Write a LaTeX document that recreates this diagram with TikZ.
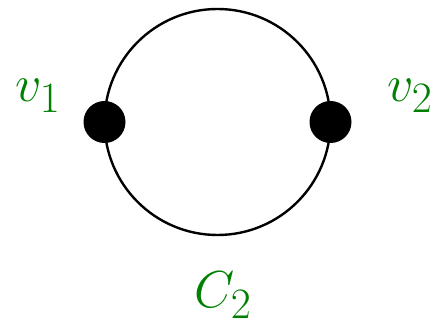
\documentclass[tikz,border=0pt]{standalone}
\usepackage{graphicx}
\definecolor{lblgreen}{RGB}{0,128,0}
\newcommand{\biglbl}[1]{\scalebox{2.09}{\Huge$#1$}}
\begin{document}
\begin{tikzpicture}[x=1pt,y=-1pt,
  vert/.style={circle,fill=black,inner sep=0pt,minimum size=42pt},
  lbl/.style={text=lblgreen,anchor=base,inner sep=0pt},
  edgeline/.style={line width=2.4pt}]
\useasboundingbox (0,0) rectangle (440,320);
\coordinate (c) at (217.5,122);
\draw[edgeline] (c) circle[radius=113];
\node[vert] (v1) at (104.5,122) {};
\node[vert] (v2) at (330.5,122) {};
\node[lbl] (l1) at (38,102) {\biglbl{v_1}};
\node[lbl] (l2) at (410,102) {\biglbl{v_2}};
\node[lbl] (l3) at (223,308) {\biglbl{C_2}};
\end{tikzpicture}
\end{document}
